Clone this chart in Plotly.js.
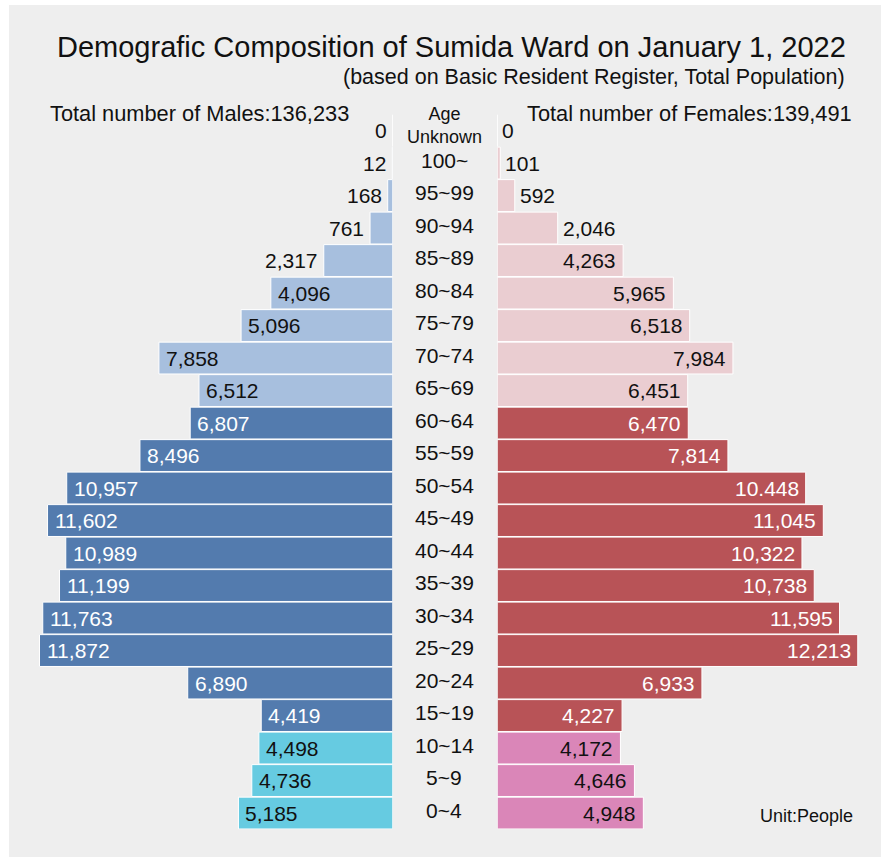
<!DOCTYPE html>
<html>
<head>
<meta charset="utf-8">
<script src="https://cdn.plot.ly/plotly-3.0.1.min.js"></script>
<style>
  html, body { margin: 0; padding: 0; background: #ffffff; }
  #chart { width: 881px; height: 857px; }
</style>
</head>
<body>
<div id="chart"></div>
<script>
// ---- data (top row to bottom row) ----
const ages = ["Age<br>Unknown", "100~", "95~99", "90~94", "85~89", "80~84", "75~79", "70~74",
  "65~69", "60~64", "55~59", "50~54", "45~49", "40~44", "35~39", "30~34", "25~29",
  "20~24", "15~19", "10~14", "5~9", "0~4"];
const males = [0, 12, 168, 761, 2317, 4096, 5096, 7858, 6512, 6807, 8496, 10957, 11602,
  10989, 11199, 11763, 11872, 6890, 4419, 4498, 4736, 5185];
const females = [0, 101, 592, 2046, 4263, 5965, 6518, 7984, 6451, 6470, 7814, 10448, 11045,
  10322, 10738, 11595, 12213, 6933, 4227, 4172, 4646, 4948];
const maleLabels = ["0", "12", "168", "761", "2,317", "4,096", "5,096", "7,858", "6,512",
  "6,807", "8,496", "10,957", "11,602", "10,989", "11,199", "11,763", "11,872", "6,890",
  "4,419", "4,498", "4,736", "5,185"];
const femaleLabels = ["0", "101", "592", "2,046", "4,263", "5,965", "6,518", "7,984", "6,451",
  "6,470", "7,814", "10.448", "11,045", "10,322", "10,738", "11,595", "12,213", "6,933",
  "4,227", "4,172", "4,646", "4,948"];
const titleText = "Demografic Composition of Sumida Ward on January 1, 2022";
const subtitleText = "(based on Basic Resident Register, Total Population)";
const maleTotalText = "Total number of Males:136,233";
const femaleTotalText = "Total number of Females:139,491";
const unitText = "Unit:People";

// ---- styling ----
const W = 881, H = 857;
const FONT = "Liberation Sans, Arial, Helvetica, sans-serif";
const COL = {
  male:   {old: "#a7bfde", work: "#537bae", young: "#66cbe1"},
  female: {old: "#eacdd1", work: "#b85357", young: "#da86b8"}
};
function group(label) {
  const n = parseInt(label, 10);
  if (isNaN(n) || n >= 65) return "old";
  if (n >= 15) return "work";
  return "young";
}
const groups = ages.map(group);
const OUTSIDE_LIMIT = 3000;
const px = v => v / W;
const py = v => 1 - v / H;

const maleTrace = {
  type: "bar", orientation: "h", x: males, y: ages, xaxis: "x", yaxis: "y",
  marker: {color: groups.map(g => COL.male[g]), line: {color: "#ffffff", width: 1}},
  hoverinfo: "skip", showlegend: false
};
const femaleTrace = {
  type: "bar", orientation: "h", x: females, y: ages, xaxis: "x2", yaxis: "y",
  marker: {color: groups.map(g => COL.female[g]), line: {color: "#ffffff", width: 1}},
  hoverinfo: "skip", showlegend: false
};

const annotations = [];
ages.forEach((a, i) => {
  const g = groups[i];
  // male value label
  const mOut = males[i] < OUTSIDE_LIMIT;
  annotations.push({
    xref: "x", yref: "y", x: males[i], y: a, text: maleLabels[i], showarrow: false,
    xanchor: mOut ? "right" : "left", xshift: mOut ? -4 : 5, yanchor: "middle",
    font: {family: FONT, size: 21, color: (!mOut && g === "work") ? "#ffffff" : "#111111"}
  });
  // female value label
  const fOut = females[i] < OUTSIDE_LIMIT;
  annotations.push({
    xref: "x2", yref: "y", x: females[i], y: a, text: femaleLabels[i], showarrow: false,
    xanchor: fOut ? "left" : "right", xshift: fOut ? 3 : -5, yanchor: "middle",
    font: {family: FONT, size: 21, color: (!fOut && g === "work") ? "#ffffff" : "#111111"}
  });
  // center age label
  const twoLine = a.indexOf("<br>") >= 0;
  annotations.push({
    xref: "paper", yref: "y", x: px(444), y: a, text: a, showarrow: false,
    xanchor: "center", yanchor: "middle", yshift: twoLine ? 5 : 3,
    font: {family: FONT, size: twoLine ? 18 : 21, color: "#111111"}
  });
});

annotations.push(
  {xref: "paper", yref: "paper", x: px(848), y: py(47), text: titleText, showarrow: false,
   xanchor: "right", yanchor: "middle", font: {family: FONT, size: 29, color: "#111111"}},
  {xref: "paper", yref: "paper", x: px(847), y: py(77), text: subtitleText, showarrow: false,
   xanchor: "right", yanchor: "middle", font: {family: FONT, size: 21.5, color: "#111111"}},
  {xref: "paper", yref: "paper", x: px(48), y: py(114), text: maleTotalText, showarrow: false,
   xanchor: "left", yanchor: "middle", font: {family: FONT, size: 21.8, color: "#111111"}},
  {xref: "paper", yref: "paper", x: px(854), y: py(114), text: femaleTotalText, showarrow: false,
   xanchor: "right", yanchor: "middle", font: {family: FONT, size: 21.8, color: "#111111"}},
  {xref: "paper", yref: "paper", x: px(855), y: py(816), text: unitText, showarrow: false,
   xanchor: "right", yanchor: "middle", font: {family: FONT, size: 18, color: "#111111"}}
);

const layout = {
  width: W, height: H,
  margin: {l: 0, r: 0, t: 0, b: 0, pad: 0},
  paper_bgcolor: "#ffffff",
  plot_bgcolor: "rgba(0,0,0,0)",
  bargap: 0.02,
  font: {family: FONT},
  xaxis: {domain: [0, px(392.7)], range: [13200, 0], autorange: false,
          visible: false, fixedrange: true, anchor: "y"},
  xaxis2: {domain: [px(497.3), 1], range: [0, 13000], autorange: false,
           visible: false, fixedrange: true, anchor: "y"},
  yaxis: {domain: [1 - 829.3 / H, 1 - 114.3 / H], type: "category",
          categoryorder: "array", categoryarray: ages.slice().reverse(),
          range: [-0.5, ages.length - 0.5], autorange: false, visible: false,
          fixedrange: true, anchor: "x"},
  shapes: [{type: "rect", xref: "paper", yref: "paper", x0: px(9), x1: 1, y0: 0, y1: py(5),
            fillcolor: "#eeeeee", line: {width: 0}, layer: "below"}],
  annotations: annotations
};

Plotly.newPlot("chart", [maleTrace, femaleTrace], layout, {displayModeBar: false, staticPlot: true});
</script>
</body>
</html>
